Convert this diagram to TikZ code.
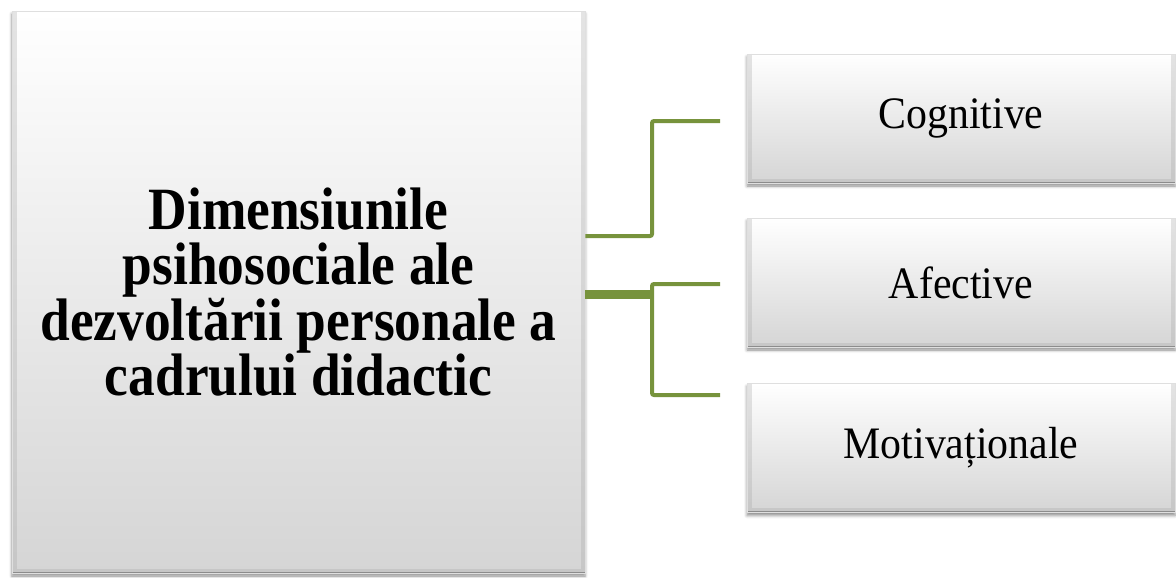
\documentclass[tikz,border=0pt]{standalone}
\usepackage{fontspec}
\setmainfont{Liberation Serif}
\newfontfamily\titlefont{Liberation Serif}[FakeStretch=0.89]
\newfontfamily\itemfont{Liberation Serif}[FakeStretch=0.93]
\usetikzlibrary{shadows.blur}

\definecolor{olive}{RGB}{119,147,60}

\tikzset{
  panel/.style={draw=gray!25, line width=0.8pt, top color=white, bottom color=gray!33,
    blur shadow={shadow xshift=0pt, shadow yshift=-3pt, shadow blur radius=3pt, shadow opacity=45},
    % bevel on the left, right and lower edges
    path picture={
      \draw[gray!70, line width=9pt, opacity=0.3]
        (path picture bounding box.north west) -- (path picture bounding box.south west)
        -- (path picture bounding box.south east) -- (path picture bounding box.north east);
      \draw[gray!80!black, line width=3pt, opacity=0.6]
        (path picture bounding box.south west) -- (path picture bounding box.south east);
    }},
  bigpanel/.style={panel, minimum width=573pt, minimum height=562pt, align=center,
    font=\titlefont\bfseries\fontsize{60}{55}\selectfont},
  itempanel/.style={panel, minimum width=428pt, minimum height=129pt,
    font=\itemfont\fontsize{45}{50}\selectfont},
  link/.style={olive, line width=4pt, rounded corners=2pt}
}

\begin{document}
\begin{tikzpicture}[x=1pt,y=-1pt]

\useasboundingbox (0,0) rectangle (1176,578);

% left box and the three on the right
\node[bigpanel] (title) at (298.5,292) {Dimensiunile\\psihosociale ale\\dezvoltării personale a\\cadrului didactic};

\node[itempanel] (cog) at (961,118.5) {Cognitive};
\node[itempanel] (afe) at (961,282.5) {Afective};
\node[itempanel] (mot) at (961,448) {Motivațional\-e};

% branch points and free ends of the links
\coordinate (j1) at (652,236);
\coordinate (j2) at (652,294);
\coordinate (e1) at (720,121);
\coordinate (e2) at (720,284);
\coordinate (e3) at (720,395);

\draw[link] (title.east |- j1) -- (j1) |- (e1);
\draw[link, line width=9pt, rounded corners=0pt] (title.east |- j2) -- (j2);
\draw[link] (e2) -| (j2 |- e3) -- (e3);

\end{tikzpicture}
\end{document}
